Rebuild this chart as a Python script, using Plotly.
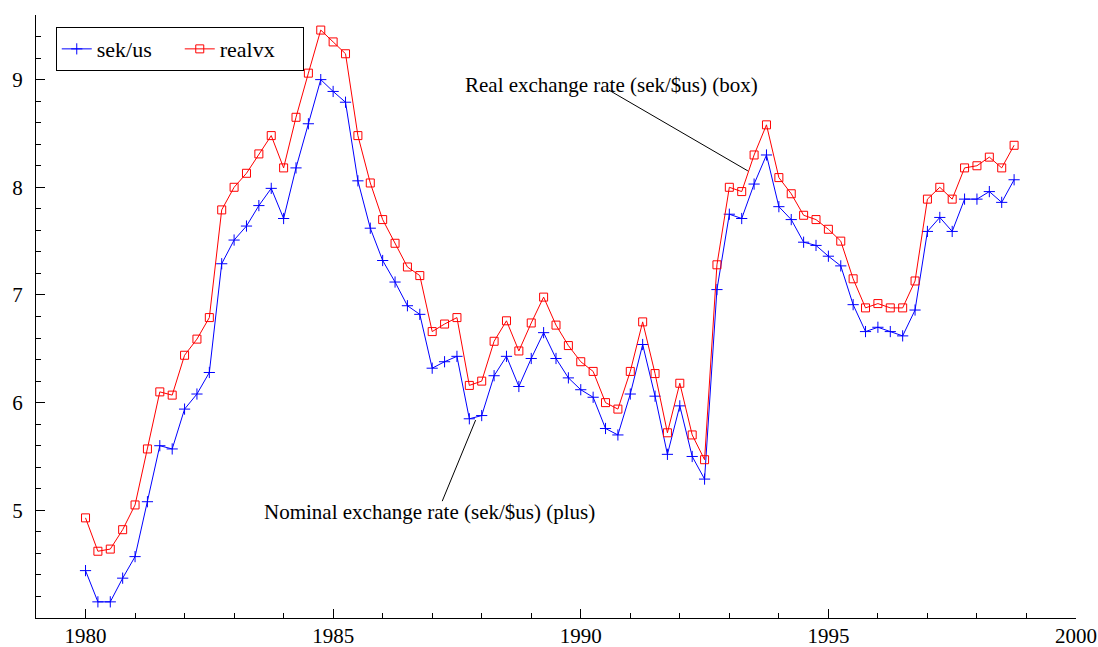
import plotly.graph_objects as go

# quarterly observations, 1980Q1 .. 1998Q4
years = list(range(1980, 1999))
quarters = [y + q / 4 for y in years for q in range(4)]

sek_us = [
    4.44, 4.15, 4.15, 4.37, 4.57, 5.08, 5.60, 5.57,
    5.94, 6.08, 6.28, 7.29, 7.51, 7.64, 7.83, 7.99,
    7.71, 8.18, 8.59, 9.00, 8.89, 8.79, 8.06, 7.62,
    7.32, 7.12, 6.90, 6.82, 6.32, 6.38, 6.43, 5.85,
    5.88, 6.25, 6.43, 6.15, 6.41, 6.65, 6.41, 6.23,
    6.12, 6.05, 5.76, 5.70, 6.08, 6.54, 6.06, 5.52,
    5.97, 5.50, 5.29, 7.05, 7.75, 7.71, 8.03, 8.30,
    7.82, 7.70, 7.49, 7.46, 7.36, 7.27, 6.91, 6.66,
    6.70, 6.66, 6.62, 6.86, 7.59, 7.72, 7.59, 7.89,
    7.89, 7.96, 7.86, 8.07,
]

realvx = [
    4.93, 4.62, 4.64, 4.82, 5.05, 5.57, 6.10, 6.07,
    6.44, 6.59, 6.79, 7.79, 8.00, 8.13, 8.31, 8.48,
    8.18, 8.65, 9.06, 9.46, 9.35, 9.24, 8.48, 8.04,
    7.70, 7.48, 7.26, 7.18, 6.66, 6.73, 6.79, 6.16,
    6.20, 6.57, 6.76, 6.48, 6.74, 6.98, 6.72, 6.53,
    6.38, 6.29, 6.00, 5.94, 6.29, 6.75, 6.27, 5.72,
    6.18, 5.70, 5.47, 7.28, 8.00, 7.96, 8.30, 8.58,
    8.09, 7.94, 7.74, 7.70, 7.61, 7.50, 7.15, 6.88,
    6.92, 6.88, 6.88, 7.13, 7.89, 8.00, 7.89, 8.18,
    8.20, 8.28, 8.18, 8.39,
]

FONT = "Liberation Serif, Times New Roman, serif"
BLUE = "#0000ff"
RED = "#ff0000"

fig = go.Figure()
fig.add_trace(
    go.Scatter(
        x=quarters,
        y=sek_us,
        name="sek/us",
        mode="lines+markers",
        line=dict(color=BLUE, width=1),
        marker=dict(symbol="cross-thin", size=8, line=dict(color=BLUE, width=1)),
    )
)
fig.add_trace(
    go.Scatter(
        x=quarters,
        y=realvx,
        name="realvx",
        mode="lines+markers",
        line=dict(color=RED, width=1),
        marker=dict(symbol="square-open", size=8, color=RED, line=dict(width=1)),
    )
)

# labels with leader lines pointing at the series
fig.add_annotation(
    x=1990.62, y=8.95, text="Real exchange rate (sek/$us) (box)",
    showarrow=False, xanchor="center", yanchor="middle",
)
fig.add_annotation(
    x=1993.375, y=8.152, ax=1990.54, ay=8.91, axref="x", ayref="y", text="",
    showarrow=True, arrowhead=0, arrowwidth=1, arrowcolor="#000",
)
fig.add_annotation(
    x=1986.95, y=4.98, text="Nominal exchange rate (sek/$us) (plus)",
    showarrow=False, xanchor="center", yanchor="middle",
)
fig.add_annotation(
    x=1987.877, y=5.838, ax=1987.19, ay=5.071, axref="x", ayref="y", text="",
    showarrow=True, arrowhead=0, arrowwidth=1, arrowcolor="#000",
)

axis_common = dict(
    showgrid=False,
    zeroline=False,
    showline=True,
    linecolor="#000",
    linewidth=1,
    ticks="inside",
    tickcolor="#000",
    tickwidth=1,
    ticklen=9,
    automargin=False,
    tickfont=dict(family=FONT, size=21, color="#000"),
)

fig.update_layout(
    width=1098,
    height=647,
    template="plotly_white",
    plot_bgcolor="white",
    paper_bgcolor="white",
    font=dict(family=FONT, size=21, color="#000"),
    margin=dict(l=36, r=22, t=15, b=29),
    showlegend=True,
    legend=dict(
        orientation="h",
        x=0.019, y=0.98, xanchor="left", yanchor="top",
        bordercolor="#000", borderwidth=1, bgcolor="white",
        font=dict(family=FONT, size=22),
        entrywidth=78,
        tracegroupgap=0,
    ),
    xaxis=dict(
        axis_common,
        range=[1979, 2000],
        tick0=1980,
        dtick=5,
        minor=dict(tick0=1980, dtick=1, ticks="inside", ticklen=5, tickcolor="#000"),
        ticklabelstandoff=-1,
    ),
    yaxis=dict(
        axis_common,
        range=[4.0, 9.6],
        tickvals=[5, 6, 7, 8, 9],
        minor=dict(tickmode="linear", tick0=4, dtick=0.2, ticks="inside", ticklen=5, tickcolor="#000"),
        ticklabelstandoff=8,
    ),
)

# drop the default body margin so the figure fills the window exactly
fig.write_html(
    "out.html",
    config={"displayModeBar": False},
    post_script="document.body.style.margin='0';",
)
